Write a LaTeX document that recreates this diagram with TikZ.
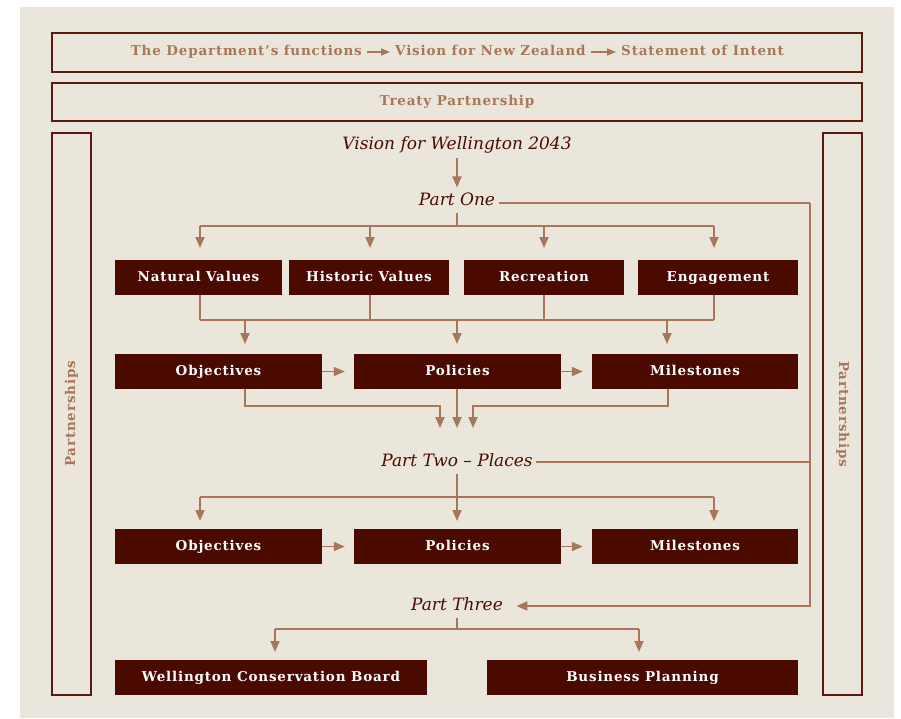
\documentclass[tikz,border=0pt]{standalone}
\usepackage{fontspec}
\setmainfont{DejaVu Serif}
\newfontfamily\slabfont[LetterSpace=6]{DejaVu Serif}
\usetikzlibrary{arrows.meta,positioning}
\definecolor{bgbeige}{HTML}{EBE6DC}
\definecolor{darkred}{HTML}{4A0A00}
\definecolor{tanbrown}{HTML}{A8765A}
\definecolor{framered}{HTML}{5A1A10}

\begin{document}
\begin{tikzpicture}[x=1pt, y=-1pt,
    every node/.style={font=\slabfont\bfseries\fontsize{13.5}{15}\selectfont, text height=10pt, text depth=3pt},
    dbox/.style={fill=darkred, text=white, minimum height=35pt, inner sep=0pt},
    frame/.style={draw=framered, line width=1.8pt},
    label/.style={text=tanbrown},
    part/.style={text=darkred, font=\itshape\fontsize{17}{19}\selectfont, text height=12pt, text depth=4pt},
    flow/.style={-{Triangle[length=11pt, width=9pt]}, draw=tanbrown, line width=1.8pt},
    link/.style={draw=tanbrown, line width=1.8pt}
]
\useasboundingbox (0,0) rectangle (901,718);
\fill[bgbeige] (20,7) rectangle (894,718);

% frames
\draw[frame] (52,33) rectangle (862,72);
\draw[frame] (52,83) rectangle (862,121);
\draw[frame] (52,133) rectangle (91,695);
\draw[frame] (823,133) rectangle (862,695);

\node[label, inner sep=0pt, anchor=east] (dept) at (362,52) {The Department’s functions};
\node[label, inner sep=0pt, anchor=west] (visionnz) at (395,52) {Vision for New Zealand};
\node[label, inner sep=0pt, anchor=west] (soi) at (621,52) {Statement of Intent};
\draw[flow, line width=1.6pt, -{Triangle[length=9pt, width=7pt]}, shorten <=5pt, shorten >=5pt] (dept) -- (visionnz);
\draw[flow, line width=1.6pt, -{Triangle[length=9pt, width=7pt]}, shorten <=5pt, shorten >=5pt] (visionnz) -- (soi);
\node[label] (treaty) at (457,102) {Treaty Partnership};
\node[label, rotate=90] (partnersl) at (71.5,414) {Partnerships};
\node[label, rotate=-90] (partnersr) at (842.5,414) {Partnerships};

% parts
\node[part] (vision) at (457,145) {Vision for Wellington 2043};
\node[part] (partone) at (457,201) {Part One};
\node[part] (parttwo) at (457,462) {Part Two – Places};
\node[part] (partthree) at (457,606) {Part Three};

% boxes
\node[dbox, minimum width=167pt] (natural) at (198.5,277.5) {Natural Values};
\node[dbox, minimum width=160pt] (historic) at (369,277.5) {Historic Values};
\node[dbox, minimum width=160pt] (recreation) at (544,277.5) {Recreation};
\node[dbox, minimum width=160pt] (engage) at (718,277.5) {Engagement};

\node[dbox, minimum width=207pt] (obja) at (218.5,371.5) {Objectives};
\node[dbox, minimum width=207pt] (pola) at (457.5,371.5) {Policies};
\node[dbox, minimum width=206pt] (mila) at (695,371.5) {Milestones};

\node[dbox, minimum width=207pt] (objb) at (218.5,546.5) {Objectives};
\node[dbox, minimum width=207pt] (polb) at (457.5,546.5) {Policies};
\node[dbox, minimum width=206pt] (milb) at (695,546.5) {Milestones};

\node[dbox, minimum width=312pt] (board) at (271,677.5) {Wellington Conservation Board};
\node[dbox, minimum width=311pt] (business) at (642.5,677.5) {Business Planning};

% connectors
\draw[flow, shorten <=1pt, shorten >=2pt] (vision) -- (partone);

\coordinate (splita) at (457,226);
\draw[link] (partone.south) -- (splita);
\draw[link] (200,226) -- (714,226);
\foreach \x in {200,370,544,714}
  \draw[flow] (\x,226) -- (\x,248);

\coordinate (mergea) at (457,320);
\foreach \x in {200,370,544,714}
  \draw[link] (\x,295) -- (\x,320);
\draw[link] (200,320) -- (714,320);
\draw[flow] (245,320) -- (245,344);
\draw[flow] (mergea) -- (457,344);
\draw[flow] (667,320) -- (667,344);

\draw[flow] (245,389) |- (440,406) -- (440,428);
\draw[flow] (pola.south -| 457,0) -- (457,428);
\draw[flow] (668,389) |- (473,406) -- (473,428);

\coordinate (splitb) at (457,497);
\draw[link] (parttwo.south) -- (splitb);
\draw[link] (200,497) -- (714,497);
\foreach \x in {200,457,714}
  \draw[flow] (\x,497) -- (\x,521);

\draw[flow, shorten >=9pt] (obja) -- (pola);
\draw[flow, shorten >=9pt] (pola) -- (mila);
\draw[flow, shorten >=9pt] (objb) -- (polb);
\draw[flow, shorten >=9pt] (polb) -- (milb);

\coordinate (splitc) at (457,629);
\draw[link] (partthree.south) -- (splitc);
\draw[link] (275,629) -- (639,629);
\draw[flow] (275,629) -- (275,652);
\draw[flow] (639,629) -- (639,652);

% partnership loop
\coordinate (loop) at (810,203);
\draw[link] (partone.east |- loop) -- (loop);
\draw[flow, shorten >=10pt] (loop) |- (partthree.east);
\draw[link] (parttwo.east) -- (parttwo.east -| loop);
\end{tikzpicture}
\end{document}
